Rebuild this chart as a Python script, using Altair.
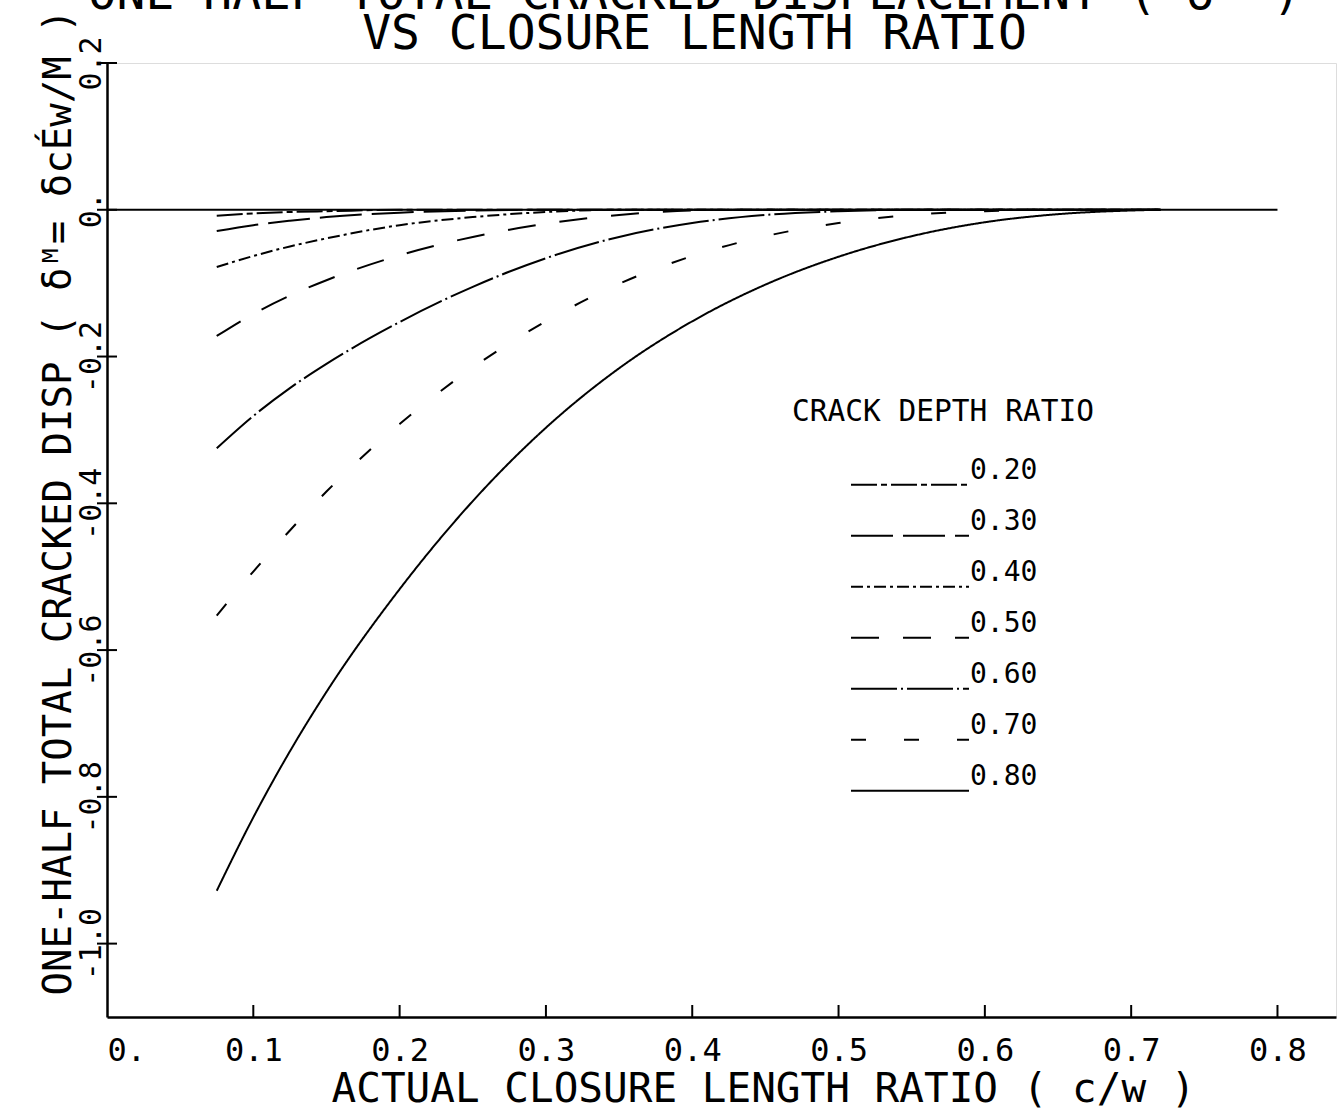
import altair as alt
import pandas as pd

# ---- data ----
x_vals = [0.075, 0.1, 0.125, 0.15, 0.2, 0.25, 0.3, 0.35, 0.4, 0.45, 0.5, 0.55, 0.6, 0.65, 0.7, 0.72]
depths = ["0.20", "0.30", "0.40", "0.50", "0.60", "0.70", "0.80"]
d020 = [-0.008, -0.005, -0.003, -0.002, 0, 0, 0, 0, 0, 0, 0, 0, 0, 0, 0, 0]
d030 = [-0.029, -0.021, -0.015, -0.010, -0.004, -0.001, 0, 0, 0, 0, 0, 0, 0, 0, 0, 0]
d040 = [-0.078, -0.063, -0.050, -0.039, -0.021, -0.010, -0.003, 0, 0, 0, 0, 0, 0, 0, 0, 0]
d050 = [-0.172, -0.142, -0.117, -0.096, -0.062, -0.037, -0.019, -0.007, -0.001, 0, 0, 0, 0, 0, 0, 0]
d060 = [-0.325, -0.281, -0.243, -0.210, -0.153, -0.105, -0.066, -0.037, -0.018, -0.007, -0.002, 0, 0, 0, 0, 0]
d070 = [-0.553, -0.493, -0.437, -0.384, -0.292, -0.215, -0.152, -0.101, -0.063, -0.036, -0.018, -0.007, -0.002, 0, 0, 0]
d080 = [-0.928, -0.828, -0.738, -0.657, -0.517, -0.397, -0.297, -0.216, -0.152, -0.102, -0.064, -0.036, -0.017, -0.006, -0.001, 0]
series = [d020, d030, d040, d050, d060, d070, d080]

dash_patterns = [[26, 4, 6, 4], [42, 10], [12, 4, 3, 4], [28, 24], [46, 4, 2, 4], [15, 38], [1, 0]]

x_ticks = [0.1, 0.2, 0.3, 0.4, 0.5, 0.6, 0.7, 0.8]
y_ticks = [0.2, 0.0, -0.2, -0.4, -0.6, -0.8, -1.0]
zero_line_x = [0.0, 0.8]

FONT = "DejaVu Sans Mono"

rows = []
for name, vals in zip(depths, series):
    for xv, yv in zip(x_vals, vals):
        rows.append({"x": xv, "y": yv, "depth": name})
df = pd.DataFrame(rows)

df_zero = pd.DataFrame({"x": [zero_line_x[0]], "x2": [zero_line_x[1]], "y": [0.0]})
df_xt = pd.DataFrame({"x": x_ticks})
df_yt = pd.DataFrame({"y": y_ticks})

W, H = 1229, 954
xscale = alt.Scale(domain=[0, 0.84], nice=False, zero=False)
yscale = alt.Scale(domain=[-1.1, 0.2], nice=False, zero=False)

x_axis = alt.Axis(
    values=x_ticks + [0.0],
    labelExpr="datum.value == 0 ? '0.' : format(datum.value, '.1f')",
    tickSize=0, labelPadding=43, labelBaseline="alphabetic",
    labelFont=FONT, labelFontSize=32, labelColor="black",
    domainColor="black", domainWidth=2.5,
    title="ACTUAL CLOSURE LENGTH RATIO ( c/w )",
    titleFont=FONT, titleFontSize=41, titleFontWeight="normal", titleColor="black",
    titleX=656, titleY=84, titleAlign="center", titleBaseline="alphabetic",
    grid=False,
)
y_axis = alt.Axis(
    values=y_ticks,
    labelExpr="datum.value == 0 ? '0.' : replace(format(datum.value, '.1f'), '\u2212', '-')",
    tickSize=0, labelPadding=7, labelAngle=270, labelAlign="center", labelBaseline="alphabetic",
    labelFont=FONT, labelFontSize=30, labelColor="black",
    domainColor="black", domainWidth=2.5,
    title="ONE-HALF TOTAL CRACKED DISP ( \u03b4\u1d39= \u03b4cE\u0301w/M )",
    titleFont=FONT, titleFontSize=39, titleFontWeight="normal", titleColor="black",
    titleAngle=270, titleX=-37, titleY=932, titleAlign="left", titleBaseline="alphabetic",
    grid=False,
)

lines = alt.Chart(df).mark_line(color="black", strokeWidth=2, interpolate="monotone").encode(
    x=alt.X("x:Q", scale=xscale, axis=x_axis),
    y=alt.Y("y:Q", scale=yscale, axis=y_axis),
    strokeDash=alt.StrokeDash(
        "depth:N",
        scale=alt.Scale(domain=depths, range=dash_patterns),
        legend=alt.Legend(
            title="CRACK DEPTH RATIO", orient="none", legendX=685, legendY=335,
            titleFont=FONT, titleFontSize=29.5, titleFontWeight="normal", titleColor="black",
            titlePadding=35, titleLimit=600,
            labelFont=FONT, labelFontSize=28, labelColor="black", labelBaseline="bottom",
            labelOffset=0, labelLimit=300,
            symbolType="stroke", symbolSize=13924, symbolStrokeWidth=2,
            symbolStrokeColor="black", symbolOffset=58,
            clipHeight=44.3, rowPadding=0, padding=0,
        ),
    ),
    detail="depth:N",
)

zero = alt.Chart(df_zero).mark_rule(color="black", strokeWidth=2).encode(
    x=alt.X("x:Q", scale=xscale), x2="x2:Q", y=alt.Y("y:Q", scale=yscale)
)

xt = alt.Chart(df_xt).mark_rule(color="black", strokeWidth=2).encode(
    x=alt.X("x:Q", scale=xscale), y=alt.value(H), y2=alt.value(H - 12)
)
yt = alt.Chart(df_yt).mark_rule(color="black", strokeWidth=2).encode(
    y=alt.Y("y:Q", scale=yscale), x=alt.value(-10), x2=alt.value(10)
)

chart = alt.layer(lines, zero, xt, yt).properties(
    width=W, height=H,
    autosize=alt.AutoSizeParams(type="none"),
    padding={"left": 107, "top": 63, "right": 5, "bottom": 93},
    title=alt.TitleParams(
        text=["ONE-HALF TOTAL CRACKED DISPLACEMENT ( \u03b4\u1d39 )", "VS CLOSURE LENGTH RATIO"],
        font=FONT, fontSize=48, fontWeight="normal", color="black",
        anchor="middle", lineHeight=40, offset=0, dx=-27, dy=50,
    ),
).configure_view(stroke=None).configure(background="white")

chart.save("out.html", embed_options={"renderer": "svg", "actions": False})
